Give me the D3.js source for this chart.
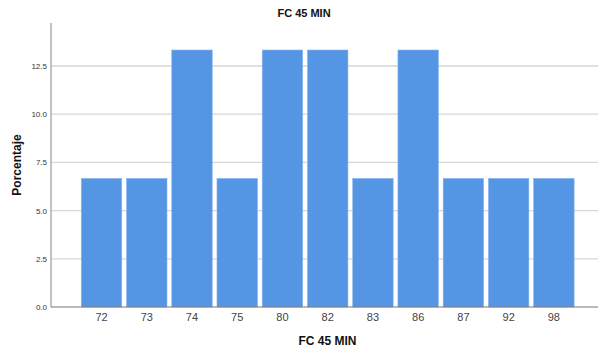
<!DOCTYPE html>
<html><head><meta charset="utf-8">
<script src="https://cdn.jsdelivr.net/npm/d3@7"></script>
<style>body{margin:0;background:#fff}svg{display:block;font-family:"Liberation Sans",Arial,sans-serif}</style>
</head><body><svg id="c" width="599" height="353"></svg>
<script>
const categories = ["72","73","74","75","80","82","83","86","87","92","98"];
const values = [6.67,6.67,13.33,6.67,13.33,13.33,6.67,13.33,6.67,6.67,6.67];
const yTicks = [0,2.5,5,7.5,10,12.5];
const title = "FC 45 MIN", xTitle = "FC 45 MIN", yTitle = "Porcentaje";

(function(){
const svg = d3.select("#c");
const mLeft = 51, mRight = 598, mTop = 23, mBottom = 307;
const x = d3.scaleBand().domain(categories).range([78.9, 576.5]).paddingInner(0.105).paddingOuter(0.0525);
const y = d3.scaleLinear().domain([0, 12.5]).range([mBottom, 66]);

// gridlines
svg.append("g").selectAll("line").data(yTicks.filter(d=>d>0)).join("line")
  .attr("x1", mLeft).attr("x2", mRight).attr("y1", d=>y(d)).attr("y2", d=>y(d))
  .attr("stroke", "#d6d6d6").attr("stroke-width", 1.3);

// bars
svg.append("g").selectAll("rect").data(values).join("rect")
  .attr("x", (d,i)=>x(categories[i])).attr("width", x.bandwidth())
  .attr("y", d=>y(d)).attr("height", d=>mBottom - y(d))
  .attr("fill", "#5495e4").attr("stroke", "#8bb7ee").attr("stroke-width", 0.6);

// y axis
const ya = d3.axisLeft(y).tickValues(yTicks).tickFormat(d3.format(".1f")).tickSize(0).tickPadding(4);
const gy = svg.append("g").attr("transform", `translate(${mLeft},0)`).call(ya);
gy.select(".domain").remove();
gy.selectAll("text").attr("font-size", 8).attr("fill", "#333").attr("font-family", "'Liberation Sans',Arial,sans-serif");
svg.append("line").attr("x1", mLeft).attr("x2", mLeft).attr("y1", mTop).attr("y2", mBottom).attr("stroke", "#999").attr("stroke-width", 1.2);

// x axis
const xa = d3.axisBottom(x).tickSize(0).tickPadding(6);
const gx = svg.append("g").attr("transform", `translate(0,${mBottom})`).call(xa);
gx.select(".domain").remove();
gx.selectAll("text").attr("font-size", 11).attr("fill", "#444").attr("font-family", "'Liberation Sans',Arial,sans-serif");
svg.append("line").attr("x1", mLeft).attr("x2", mRight).attr("y1", mBottom).attr("y2", mBottom).attr("stroke", "#777").attr("stroke-width", 1.2);

// titles
svg.append("text").attr("x", 304).attr("y", 17).attr("text-anchor", "middle")
  .attr("font-size", 11).attr("font-weight", "bold").attr("fill", "#111").text(title);
svg.append("text").attr("x", 327.5).attr("y", 345).attr("text-anchor", "middle")
  .attr("font-size", 12).attr("font-weight", "bold").attr("fill", "#111").text(xTitle);
svg.append("text").attr("transform", "translate(21,165) rotate(-90)").attr("text-anchor", "middle")
  .attr("font-size", 12).attr("font-weight", "bold").attr("fill", "#111").text(yTitle);
})();
</script></body></html>
